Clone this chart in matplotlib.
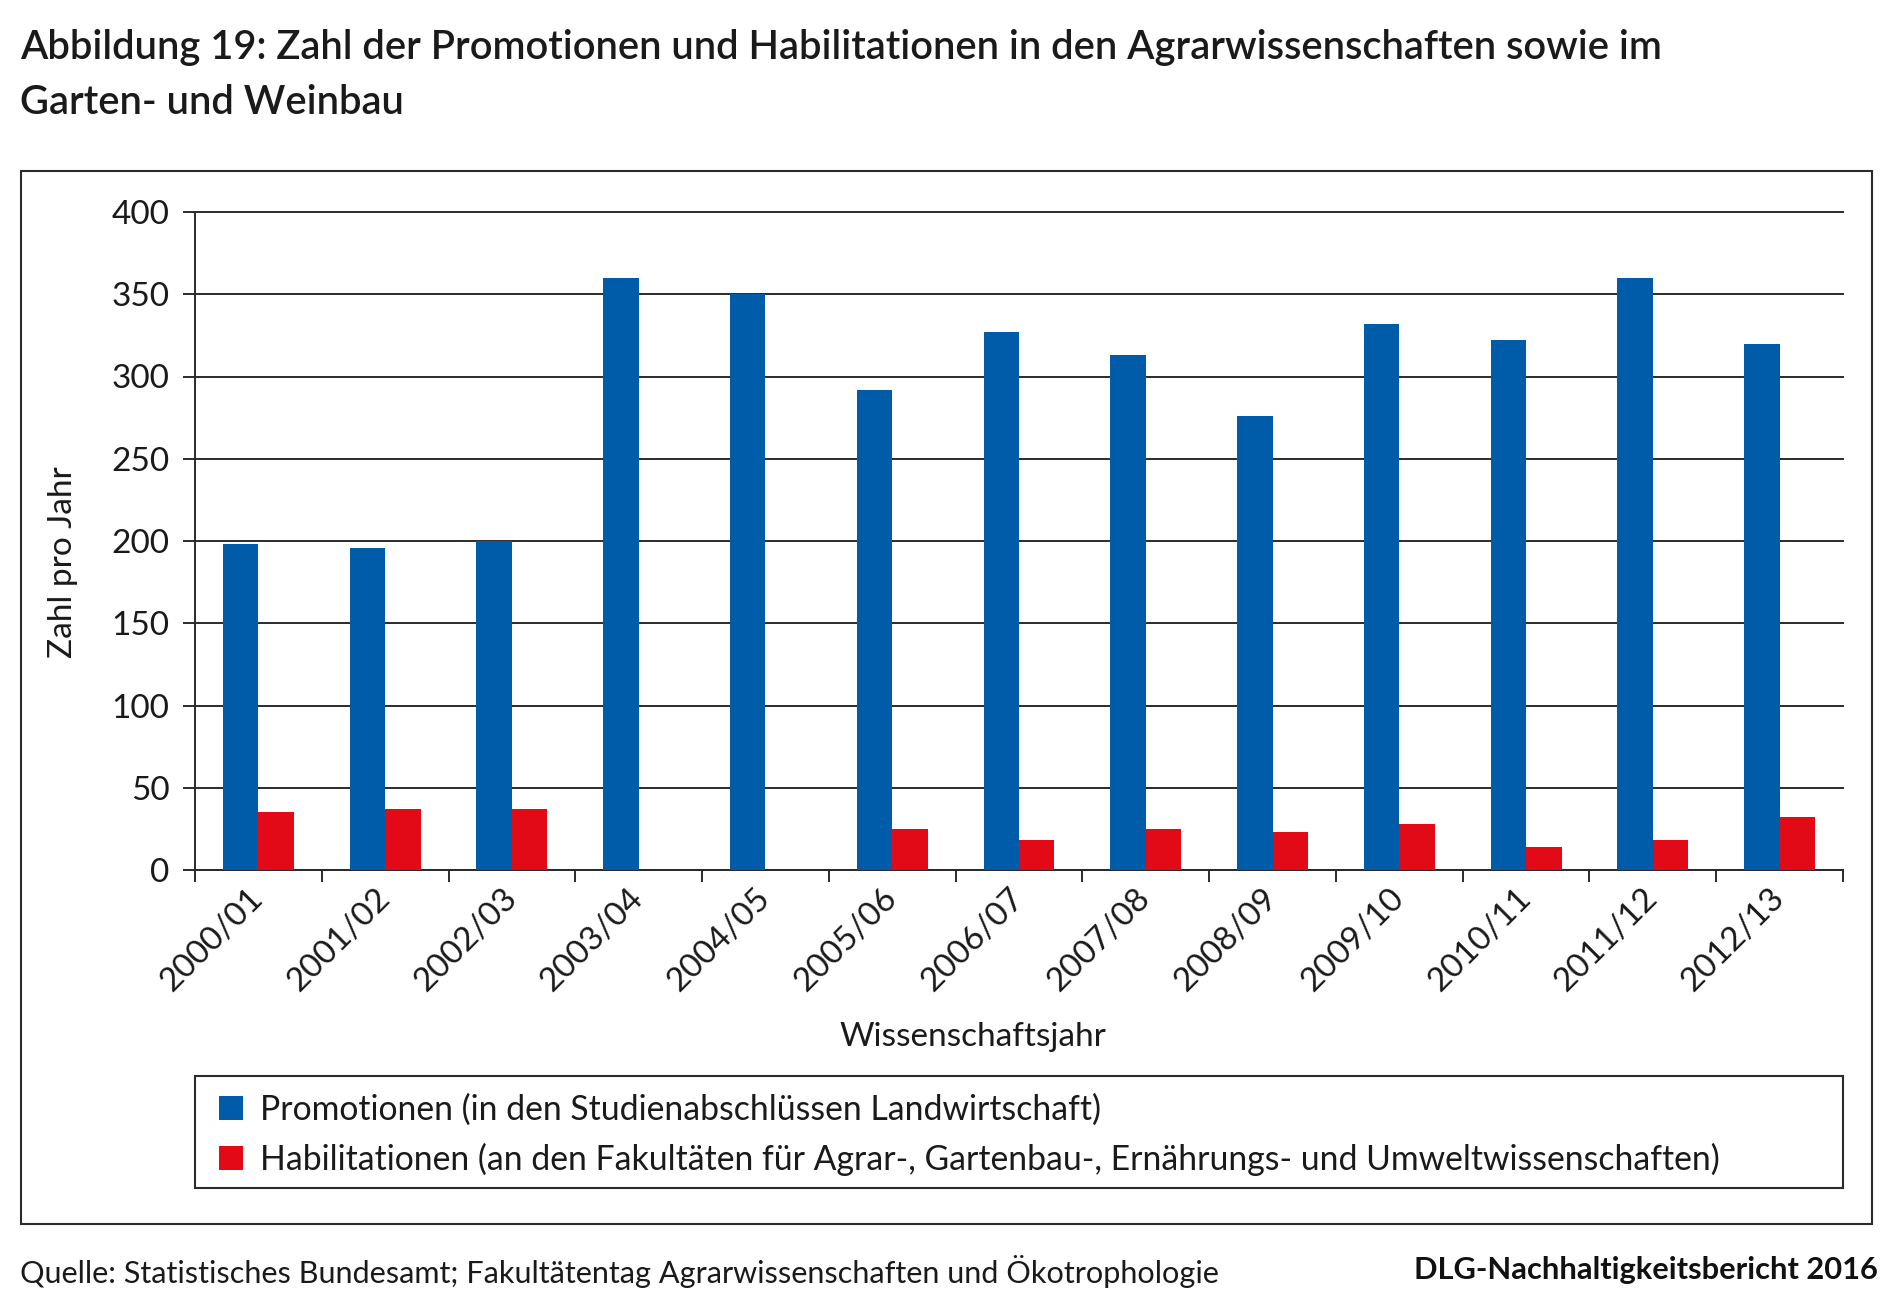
import numpy as np
import matplotlib
matplotlib.use("Agg")
import matplotlib.pyplot as plt
from matplotlib.patches import Rectangle

# Data
jahre = ["2000/01", "2001/02", "2002/03", "2003/04", "2004/05", "2005/06", "2006/07",
         "2007/08", "2008/09", "2009/10", "2010/11", "2011/12", "2012/13"]
promotionen = [198, 196, 200, 360, 350, 292, 327, 313, 276, 332, 322, 360, 320]
habilitationen = [35, 37, 37, 0, 0, 25, 18, 25, 23, 28, 14, 18, 32]
y_ticks = [0, 50, 100, 150, 200, 250, 300, 350, 400]

label_prom = "Promotionen (in den Studienabschlüssen Landwirtschaft)"
label_hab = ("Habilitationen (an den Fakultäten für Agrar-, Gartenbau-, "
             "Ernährungs- und Umweltwissenschaften)")

BLUE = "#005CA9"
RED = "#E20A17"
TEXT = "#1a1a1a"
LINE = "#2b2b2b"

W, H = 1900, 1308
plt.rcParams['font.family'] = ['Lato', 'DejaVu Sans']
fig = plt.figure(figsize=(W / 100, H / 100), dpi=100)
fig.patch.set_facecolor("white")

# Title
fig.text(20 / W, 1 - 47 / H,
         "Abbildung 19: Zahl der Promotionen und Habilitationen in den Agrarwissenschaften sowie im",
         fontsize=28.7, fontweight='semibold', color=TEXT, va='center', ha='left')
fig.text(20 / W, 1 - 103 / H, "Garten- und Weinbau",
         fontsize=28.7, fontweight='semibold', color=TEXT, va='center', ha='left')

# Outer frame
fig.add_artist(Rectangle((21 / W, 1 - 1224 / H), (1872 - 21) / W, (1224 - 171) / H,
                         transform=fig.transFigure, fill=False, edgecolor=LINE, lw=1.5))

# Plot area
ax = fig.add_axes([195 / W, 1 - 870 / H, 1648 / W, 658 / H])
x = np.arange(len(jahre))
bw = 0.28
ax.bar(x - bw / 2, promotionen, width=bw, color=BLUE, label=label_prom, zorder=3)
ax.bar(x + bw / 2, habilitationen, width=bw, color=RED, label=label_hab, zorder=3)

ax.set_xlim(-0.5, len(jahre) - 0.5)
ax.set_ylim(0, 400)
ax.set_yticks(y_ticks)
ax.set_yticklabels([str(v) for v in y_ticks])
ax.grid(axis='y', color=LINE, lw=1.4, zorder=0)
ax.set_axisbelow(True)
for gl in ax.get_ygridlines():
    gl.set_clip_on(False)

for s in ['top', 'right']:
    ax.spines[s].set_visible(False)
for s in ['left', 'bottom']:
    ax.spines[s].set_color(LINE)
    ax.spines[s].set_linewidth(1.4)

ax.tick_params(axis='y', direction='out', length=8.5, width=1.4, color=LINE,
               labelsize=24, labelcolor=TEXT, pad=10)
ax.set_xticks(x)
ax.set_xticklabels(jahre, rotation=45, ha='right', va='center', rotation_mode='anchor')
ax.tick_params(axis='x', which='major', length=0, labelsize=24, labelcolor=TEXT, pad=17)
ax.set_xticks(np.arange(len(jahre) + 1) - 0.5, minor=True)
ax.tick_params(axis='x', which='minor', direction='out', length=8.5, width=1.4, color=LINE)

# Axis titles
fig.text(63 / W, 1 - 562 / H, "Zahl pro Jahr", rotation=90, fontsize=24,
         color=TEXT, ha='center', va='center')
fig.text(973 / W, 1 - 1037 / H, "Wissenschaftsjahr", fontsize=24,
         color=TEXT, ha='center', va='center')

# Legend box
fig.add_artist(Rectangle((195 / W, 1 - 1188 / H), 1648 / W, 112 / H,
                         transform=fig.transFigure, fill=False, edgecolor=LINE, lw=1.5))
leg = fig.legend(loc='center left', bbox_to_anchor=(219 / W, 1 - 1134.5 / H),
                 ncol=1, fontsize=24.3, frameon=False, borderaxespad=0, borderpad=0,
                 handlelength=0.72, handleheight=0.72, handletextpad=0.5,
                 labelspacing=0.5, labelcolor=TEXT)

# Footer
fig.text(20 / W, 1 - 1271 / H,
         "Quelle: Statistisches Bundesamt; Fakultätentag Agrarwissenschaften und Ökotrophologie",
         fontsize=22.05, color=TEXT, ha='left', va='center')
fig.text(1878 / W, 1 - 1270 / H, "DLG-Nachhaltigkeitsbericht 2016", fontsize=22.2,
         fontweight='bold', color="#111111", ha='right', va='center')

fig.savefig("out.png", dpi=100, facecolor=fig.get_facecolor())
